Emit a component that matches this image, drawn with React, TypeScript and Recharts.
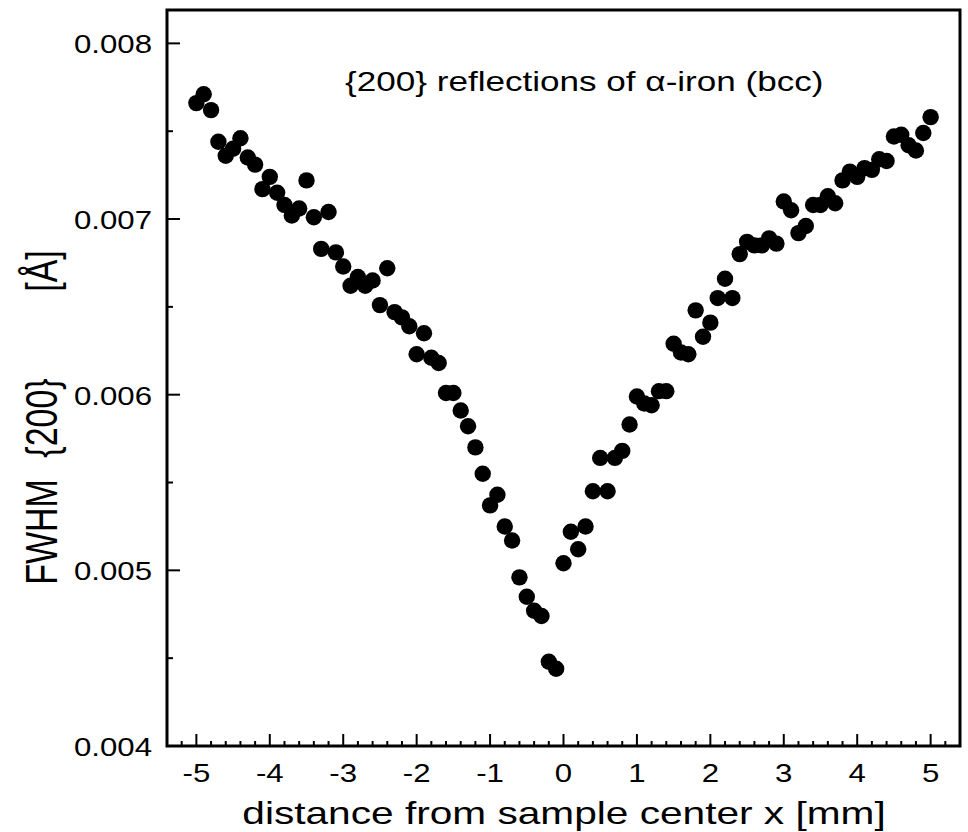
import React from 'react';
import { ScatterChart, Scatter, XAxis, YAxis, ReferenceArea } from 'recharts';

const xLeft = [-5.0, -4.9, -4.8, -4.7, -4.6, -4.5, -4.4, -4.3, -4.2, -4.1, -4.0, -3.9, -3.8, -3.7, -3.6, -3.5, -3.4, -3.3, -3.2, -3.1, -3.0, -2.9, -2.8, -2.7, -2.6, -2.5, -2.4, -2.3, -2.2, -2.1, -2.0, -1.9, -1.8, -1.7, -1.6, -1.5, -1.4, -1.3, -1.2, -1.1, -1.0, -0.9, -0.8, -0.7, -0.6, -0.5, -0.4, -0.3, -0.2, -0.1];
const fwhmLeft = [0.00766, 0.00771, 0.00762, 0.00744, 0.00736, 0.00740, 0.00746, 0.00735, 0.00731, 0.00717, 0.00724, 0.00715, 0.00708, 0.00702, 0.00706, 0.00722, 0.00701, 0.00683, 0.00704, 0.00681, 0.00673, 0.00662, 0.00667, 0.00662, 0.00665, 0.00651, 0.00672, 0.00647, 0.00644, 0.00639, 0.00623, 0.00635, 0.00621, 0.00618, 0.00601, 0.00601, 0.00591, 0.00582, 0.00570, 0.00555, 0.00537, 0.00543, 0.00525, 0.00517, 0.00496, 0.00485, 0.00477, 0.00474, 0.00448, 0.00444];
const xRight = [0.0, 0.1, 0.2, 0.3, 0.4, 0.5, 0.6, 0.7, 0.8, 0.9, 1.0, 1.1, 1.2, 1.3, 1.4, 1.5, 1.6, 1.7, 1.8, 1.9, 2.0, 2.1, 2.2, 2.3, 2.4, 2.5, 2.6, 2.7, 2.8, 2.9, 3.0, 3.1, 3.2, 3.3, 3.4, 3.5, 3.6, 3.7, 3.8, 3.9, 4.0, 4.1, 4.2, 4.3, 4.4, 4.5, 4.6, 4.7, 4.8, 4.9, 5.0];
const fwhmRight = [0.00504, 0.00522, 0.00512, 0.00525, 0.00545, 0.00564, 0.00545, 0.00564, 0.00568, 0.00583, 0.00599, 0.00595, 0.00594, 0.00602, 0.00602, 0.00629, 0.00624, 0.00623, 0.00648, 0.00633, 0.00641, 0.00655, 0.00666, 0.00655, 0.00680, 0.00687, 0.00685, 0.00685, 0.00689, 0.00686, 0.00710, 0.00705, 0.00692, 0.00696, 0.00708, 0.00708, 0.00713, 0.00709, 0.00722, 0.00727, 0.00724, 0.00729, 0.00728, 0.00734, 0.00733, 0.00747, 0.00748, 0.00742, 0.00739, 0.00749, 0.00758];

const xMajorTicks = [-5, -4, -3, -2, -1, 0, 1, 2, 3, 4, 5];
const xMinorTicks = [-5.2, -4.8, -4.6, -4.4, -4.2, -3.8, -3.6, -3.4, -3.2, -2.8, -2.6, -2.4, -2.2, -1.8, -1.6, -1.4, -1.2, -0.8, -0.6, -0.4, -0.2, 0.2, 0.4, 0.6, 0.8, 1.2, 1.4, 1.6, 1.8, 2.2, 2.4, 2.6, 2.8, 3.2, 3.4, 3.6, 3.8, 4.2, 4.4, 4.6, 4.8, 5.2];
const yMajorTicks = [0.004, 0.005, 0.006, 0.007, 0.008];
const yMinorTicks = [0.0045, 0.0055, 0.0065, 0.0075];

const xTitle = 'distance from sample center x [mm]';
const yTitleParts = ['FWHM', '{200}', '[Å]'];
const annotation = '{200} reflections of α-iron (bcc)';

const data = [
  ...xLeft.map((x, i) => ({ x, y: fwhmLeft[i] })),
  ...xRight.map((x, i) => ({ x, y: fwhmRight[i] })),
];
const xTicks = [...xMajorTicks, ...xMinorTicks].sort((a, b) => a - b);
const yTicks = [...yMajorTicks, ...yMinorTicks].sort((a, b) => a - b);

const FONT = "'Liberation Sans', Arial, Helvetica, sans-serif";

const isMajorX = (v: number) => xMajorTicks.some((m) => Math.abs(m - v) < 1e-9);
const isMajorY = (v: number) => yMajorTicks.some((m) => Math.abs(m - v) < 1e-9);

const XTick = (props: any) => {
  const { x, y, payload } = props;
  const major = isMajorX(payload.value);
  return (
    <g>
      <line x1={x} x2={x} y1={y} y2={y - (major ? 12 : 5)} stroke="#000" strokeWidth={2} />
      {major && (
        <g transform={`translate(${x},${y + 36}) scale(1.2,1)`}>
          <text x={0} y={0} textAnchor="middle" fontFamily={FONT} fontSize={26} fill="#000">
            {String(payload.value)}
          </text>
        </g>
      )}
    </g>
  );
};

const YTick = (props: any) => {
  const { x, y, payload } = props;
  const major = isMajorY(payload.value);
  return (
    <g>
      <line x1={x} x2={x + (major ? 13 : 6)} y1={y} y2={y} stroke="#000" strokeWidth={2} />
      {major && (
        <g transform={`translate(${x - 15},${y + 10}) scale(1.2,1)`}>
          <text x={0} y={0} textAnchor="end" fontFamily={FONT} fontSize={26} fill="#000">
            {Number(payload.value).toFixed(3)}
          </text>
        </g>
      )}
    </g>
  );
};

const Dot = (props: any) => {
  const { cx, cy } = props;
  return <circle cx={cx} cy={cy} r={8.2} fill="#000" />;
};

export default function App() {
  return (
    <div style={{ position: 'absolute', left: 0, top: 0, width: 968, height: 832, background: '#fff' }}>
      <ScatterChart width={968} height={832} margin={{ top: 10, right: 8, bottom: 0, left: 0 }}>
        <XAxis
          type="number"
          dataKey="x"
          domain={[-5.4, 5.4]}
          ticks={xTicks}
          interval={0}
          tick={<XTick />}
          tickLine={false}
          axisLine={false}
          height={86}
          tickSize={0}
          tickMargin={0}
          allowDataOverflow
        />
        <YAxis
          type="number"
          dataKey="y"
          domain={[0.004, 0.00819]}
          ticks={yTicks}
          interval={0}
          tick={<YTick />}
          tickLine={false}
          axisLine={false}
          width={167}
          tickSize={0}
          tickMargin={0}
          allowDataOverflow
        />
        <ReferenceArea x1={-5.4} x2={5.4} y1={0.004} y2={0.00819} fill="none" stroke="#000" strokeWidth={3} ifOverflow="visible" />
        <Scatter data={data} shape={Dot} isAnimationActive={false} />
      </ScatterChart>
      <svg
        width={968}
        height={832}
        style={{ position: 'absolute', left: 0, top: 0, pointerEvents: 'none' }}
      >
        <g transform="translate(564,824) scale(1.27,1)">
          <text x={0} y={0} textAnchor="middle" fontFamily={FONT} fontSize={32} fill="#000">
            {xTitle}
          </text>
        </g>
        <g transform="translate(345,91) scale(1.3,1)">
          <text x={0} y={0} textAnchor="start" fontFamily={FONT} fontSize={27} fill="#000">
            {annotation}
          </text>
        </g>
        <g transform="translate(41,532) rotate(-90) scale(1,1.3)">
          <text x={0} y={0} textAnchor="middle" dominantBaseline="central" fontFamily={FONT} fontSize={34} fill="#000">
            {yTitleParts[0]}
          </text>
        </g>
        <g transform="translate(41,418) rotate(-90) scale(1,1.3)">
          <text x={0} y={0} textAnchor="middle" dominantBaseline="central" fontFamily={FONT} fontSize={34} fill="#000">
            {yTitleParts[1]}
          </text>
        </g>
        <g transform="translate(41,271) rotate(-90) scale(1,1.3)">
          <text x={0} y={0} textAnchor="middle" dominantBaseline="central" fontFamily={FONT} fontSize={34} fill="#000">
            {yTitleParts[2]}
          </text>
        </g>
      </svg>
    </div>
  );
}
